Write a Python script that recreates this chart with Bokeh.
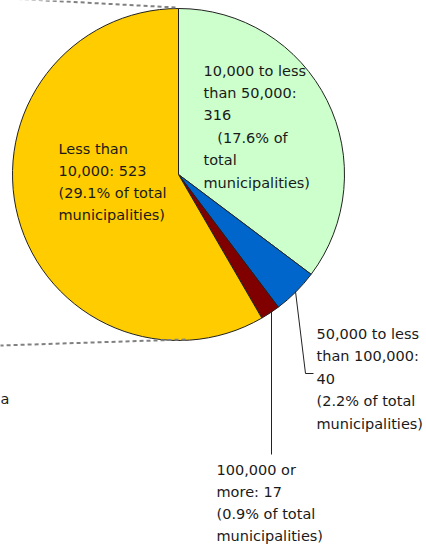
import numpy as np
from bokeh.plotting import figure
from bokeh.models import Range1d, ColumnDataSource
from bokeh.core.properties import value
from bokeh.embed import file_html
from bokeh.resources import INLINE

# ---- data ----
categories = ["10,000 to less than 50,000", "50,000 to less than 100,000",
              "100,000 or more", "Less than 10,000"]
counts = [316, 40, 17, 523]
shares = [17.6, 2.2, 0.9, 29.1]
colors = ["#CCFFCC", "#0066CC", "#800000", "#FFCC00"]
label_lines = [
    ["10,000 to less", "than 50,000:", "316", "\u00a0\u00a0\u00a0(17.6% of", "total", "municipalities)"],
    ["50,000 to less", "than 100,000:", "40", "(2.2% of total", "municipalities)"],
    ["100,000 or", "more: 17", "(0.9% of total", "municipalities)"],
    ["Less than", "10,000: 523", "(29.1% of total", "municipalities)"],
]

W, H = 426, 545
p = figure(width=W, height=H, x_range=Range1d(0, W), y_range=Range1d(0, H),
           output_backend="svg", toolbar_location=None, min_border=0)
p.axis.visible = False
p.grid.visible = False
p.outline_line_color = None
p.background_fill_color = "white"

cx, cy, r = 178, H - 174, 166

frac = np.array(counts) / np.sum(counts)
cum = np.concatenate([[0], np.cumsum(frac)])
start = np.pi / 2 - 2 * np.pi * cum[:-1]
end = np.pi / 2 - 2 * np.pi * cum[1:]
src = ColumnDataSource(dict(start=start, end=end, color=colors,
                            cat=categories, n=counts))
p.wedge(x=cx, y=cy, radius=r, start_angle="start", end_angle="end",
        direction="clock", fill_color="color", line_color="#222222",
        line_width=1, source=src)

# dashed connectors to the (cropped) main pie on the left
p.line([175, -10], [H - 7, H - 7 + 10.0], line_color="#808080", line_width=2,
       line_dash="4 3")
p.line([185, -10], [H - 339, H - 345.3], line_color="#808080", line_width=2,
       line_dash="4 3")

# leader lines
p.line([295, 305, 313], [H - 291, H - 373, H - 373], line_color="#222222", line_width=1)
p.line([271, 271], [H - 309, H - 454], line_color="#222222", line_width=1)

font = value("DejaVu Sans")
label_pos = [(203, 70), (316, 333), (216, 469), (58, 148)]
spacing = [22.4, 22.5, 22.3, 22.2]
xs, ys, ts = [], [], []
for (lx, ly), lines, sp in zip(label_pos, label_lines, spacing):
    for i, t in enumerate(lines):
        xs.append(lx)
        ys.append(H - (ly + i * sp))
        ts.append(t)
# partially visible label belonging to the main pie (off to the left)
xs.append(0); ys.append(H - 398); ts.append("a")
p.text(x=xs, y=ys, text=ts, text_font=font, text_font_size="14.5px",
       text_color="#1a1a1a", text_baseline="middle", text_align="left")

open("out.html", "w").write(file_html(p, INLINE))
